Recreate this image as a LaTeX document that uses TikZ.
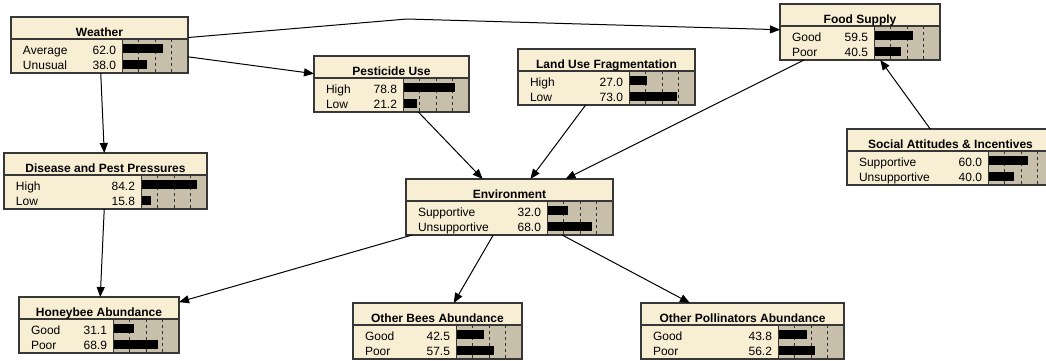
\documentclass[tikz,border=0pt]{standalone}
\usepackage{fontspec}
\setmainfont{Liberation Sans}
\usetikzlibrary{calc,arrows.meta}

\definecolor{nodebeige}{RGB}{248,238,212}
\definecolor{bartan}{RGB}{199,191,170}
\definecolor{frameline}{RGB}{55,55,55}

% belief box: name, left, top, width, title, state 1, value 1, state 2, value 2
\newcommand{\beliefbox}[9]{%
\draw (#2,#3) node[bnbox,minimum width=#4pt] (#1) {};
\fill[bartan] ($(#1.north east)+(-66,22)$) rectangle (#1.south east);
\foreach \q in {16.5,33,49.5}
  \draw[quarter] ($(#1.north east)+(\q-66,22)$) -- ($(#1.south east)+(\q-66,0)$);
\fill ($(#1.north east)+(-66,26.5)$) rectangle ++(0.66*#7,9);
\fill ($(#1.north east)+(-66,42.5)$) rectangle ++(0.66*#9,9);
\draw[frameline,line width=0.8pt] ($(#1.north east)+(-66,22)$) -- ($(#1.south east)+(-66,0)$);
\draw[frameline,line width=1.2pt] ($(#1.north west)+(0,22)$) -- ($(#1.north east)+(0,22)$);
\draw[frameline,line width=1.2pt] (#1.north west) rectangle (#1.south east);
\draw ($(#1.north)+(0,19)$) node[bntitle] {#5};
\draw ($(#1.north west)+(12,37.5)$) node[bnstate] {#6};
\draw ($(#1.north east)+(-72,37.5)$) node[bnvalue] {#7};
\draw ($(#1.north west)+(12,52)$) node[bnstate] {#8};
\draw ($(#1.north east)+(-72,52)$) node[bnvalue] {#9};
}

\begin{document}
\begin{tikzpicture}[x=1pt,y=-1pt,inner sep=0pt,outer sep=0pt,
bnbox/.style={rectangle,fill=nodebeige,anchor=north west,minimum height=56pt},
quarter/.style={draw=black!80,line width=0.9pt,dash pattern=on 3pt off 3pt},
bntitle/.style={anchor=base,font=\fontsize{12}{14}\selectfont\bfseries},
bnstate/.style={anchor=base west,font=\fontsize{12}{14}\selectfont},
bnvalue/.style={anchor=base east,font=\fontsize{12}{14}\selectfont},
link/.style={-{Triangle[length=10pt,width=8pt]},line width=1pt}]
\useasboundingbox[fill=white] (0,0) rectangle (1046,360);

\beliefbox{weather}{11}{17}{177}{Weather}{Average}{62.0}{Unusual}{38.0}
\beliefbox{disease}{4}{153}{203}{Disease and Pest Pressures}{High}{84.2}{Low}{15.8}
\beliefbox{pesticide}{314}{56}{155}{Pesticide Use}{High}{78.8}{Low}{21.2}
\beliefbox{landuse}{518}{49}{177}{Land Use Fragmentation}{High}{27.0}{Low}{73.0}
\beliefbox{food}{780}{4}{160}{Food Supply}{Good}{59.5}{Poor}{40.5}
\beliefbox{social}{847}{129}{207}{Social Attitudes \& Incentives}{Supportive}{60.0}{Unsupportive}{40.0}
\beliefbox{env}{406}{179}{207}{Environment}{Supportive}{32.0}{Unsupportive}{68.0}
\beliefbox{honeybee}{19}{297}{160}{Honeybee Abundance}{Good}{31.1}{Poor}{68.9}
\beliefbox{otherbees}{353}{303}{169}{Other Bees Abundance}{Good}{42.5}{Poor}{57.5}
\beliefbox{otherpoll}{641}{303}{203}{Other Pollinators Abundance}{Good}{43.8}{Poor}{56.2}

\coordinate (wbend) at (407,19);
\draw[link] (weather) -- (wbend) -- (food);
\draw[link] (weather) -- (pesticide);
\draw[link] (weather) -- (disease);
\draw[link] (disease) -- (honeybee);
\draw[link] (pesticide) -- (env);
\draw[link] (landuse) -- (env);
\draw[link] (food) -- (env);
\draw[link] (social) -- (food);
\draw[link] (env) -- (honeybee);
\draw[link] (env) -- (otherbees);
\draw[link] (env) -- (otherpoll);
\end{tikzpicture}
\end{document}
